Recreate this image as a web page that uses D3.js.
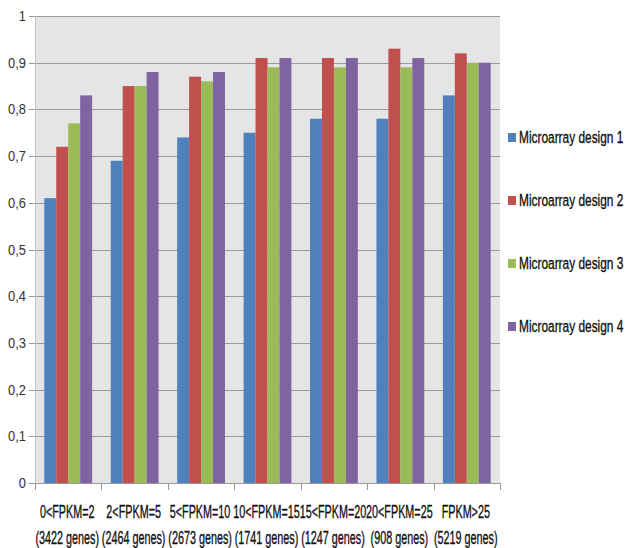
<!DOCTYPE html>
<html>
<head>
<meta charset="utf-8">
<script src="https://cdn.jsdelivr.net/npm/d3@7"></script>
<style>
  body { margin: 0; background: #ffffff; }
  svg { display: block; }
  text { font-family: "Liberation Sans", Arial, sans-serif; fill: #1a1a1a; }
  .heavy { fill: #111111; stroke: #111111; stroke-width: 0.35px; }
</style>
</head>
<body>
<svg id="chart" width="626" height="548"></svg>
<script>
// Correlation per FPKM bin, one array per microarray design
const categories = ["0<FPKM=2", "2<FPKM=5", "5<FPKM=10", "10<FPKM=15", "15<FPKM=20", "20<FPKM=25", "FPKM>25"];
const geneCounts = ["(3422 genes)", "(2464 genes)", "(2673 genes)", "(1741 genes)", "(1247 genes)", "(908 genes)", "(5219 genes)"];
const seriesNames = ["Microarray design 1", "Microarray design 2", "Microarray design 3", "Microarray design 4"];
const design1 = [0.61, 0.69, 0.74, 0.75, 0.78, 0.78, 0.83];
const design2 = [0.72, 0.85, 0.87, 0.91, 0.91, 0.93, 0.92];
const design3 = [0.77, 0.85, 0.86, 0.89, 0.89, 0.89, 0.90];
const design4 = [0.83, 0.88, 0.88, 0.91, 0.91, 0.91, 0.90];
const yTicks = [0, 0.1, 0.2, 0.3, 0.4, 0.5, 0.6, 0.7, 0.8, 0.9, 1];
const yTickLabels = ["0", "0,1", "0,2", "0,3", "0,4", "0,5", "0,6", "0,7", "0,8", "0,9", "1"];
const colors = ["#4f81bd", "#c0504d", "#9bbb59", "#8064a2"];

const seriesValues = [design1, design2, design3, design4];

const svg = d3.select("#chart");
const plot = { left: 35, right: 500, top: 16, bottom: 483 };

const x0 = d3.scaleBand()
  .domain(categories)
  .range([plot.left, plot.right])
  .paddingInner(0.28)
  .paddingOuter(0.14);

const x1 = d3.scaleBand()
  .domain(d3.range(seriesNames.length))
  .range([0, x0.bandwidth()])
  .padding(0);

const y = d3.scaleLinear().domain([0, 1]).range([plot.bottom, plot.top]);

// plot area background
svg.append("rect")
  .attr("x", plot.left).attr("y", plot.top)
  .attr("width", plot.right - plot.left).attr("height", plot.bottom - plot.top)
  .attr("fill", "#e5e5e5");

// horizontal gridlines with short ticks outside the left edge
svg.append("g").selectAll("line")
  .data(yTicks.filter(d => d > 0))
  .join("line")
  .attr("x1", plot.left - 6).attr("x2", plot.right)
  .attr("y1", d => Math.round(y(d)) + 0.5).attr("y2", d => Math.round(y(d)) + 0.5)
  .attr("stroke", "#9a9a9a").attr("stroke-width", 1);

// left axis line
svg.append("line")
  .attr("x1", plot.left + 0.5).attr("x2", plot.left + 0.5)
  .attr("y1", plot.top).attr("y2", plot.bottom)
  .attr("stroke", "#c4c4c4");

// y tick labels
svg.append("g").selectAll("text")
  .data(yTicks)
  .join("text")
  .attr("transform", d => `translate(26,${y(d) + 5}) scale(0.86,1)`)
  .attr("text-anchor", "end")
  .attr("font-size", 15)
  .style("fill", "#333")
  .text((d, i) => yTickLabels[i]);

// bars
const groups = svg.append("g").selectAll("g")
  .data(categories)
  .join("g")
  .attr("transform", d => `translate(${x0(d)},0)`);

groups.selectAll("rect")
  .data((d, ci) => seriesValues.map((vals, si) => ({ si, v: vals[ci] })))
  .join("rect")
  .attr("x", d => x1(d.si))
  .attr("width", x1.bandwidth())
  .attr("y", d => y(d.v))
  .attr("height", d => y(0) - y(d.v))
  .attr("fill", d => colors[d.si]);

// bottom axis with category boundary ticks
const step = x0.step();
const boundaries = d3.range(categories.length + 1).map(i => plot.left + i * step);
svg.append("line")
  .attr("x1", plot.left - 6).attr("x2", plot.right)
  .attr("y1", plot.bottom + 0.5).attr("y2", plot.bottom + 0.5)
  .attr("stroke", "#9a9a9a");
svg.append("g").selectAll("line")
  .data(boundaries)
  .join("line")
  .attr("x1", d => Math.round(d) + 0.5).attr("x2", d => Math.round(d) + 0.5)
  .attr("y1", plot.bottom).attr("y2", plot.bottom + 7)
  .attr("stroke", "#9a9a9a");

// category labels, two lines each, condensed to fit one band
const catLabels = svg.append("g");
catLabels.selectAll("text.cat")
  .data(categories)
  .join("text")
  .attr("class", "cat heavy")
  .attr("transform", d => `translate(${x0(d) + x0.bandwidth() / 2 - 1},518) scale(0.6,1)`)
  .attr("text-anchor", "middle")
  .attr("font-size", 18)
  .text(d => d);
catLabels.selectAll("text.genes")
  .data(geneCounts)
  .join("text")
  .attr("class", "genes heavy")
  .attr("transform", (d, i) => `translate(${x0(categories[i]) + x0.bandwidth() / 2 - 1},544) scale(0.6,1)`)
  .attr("text-anchor", "middle")
  .attr("font-size", 18)
  .text(d => d);

// legend
const legend = svg.append("g").selectAll("g")
  .data(seriesNames)
  .join("g")
  .attr("transform", (d, i) => `translate(508,${137 + i * 63})`);
legend.append("rect")
  .attr("x", 0).attr("y", -4).attr("width", 8).attr("height", 9)
  .attr("fill", (d, i) => colors[i]);
legend.append("text")
  .attr("class", "heavy")
  .attr("transform", "translate(11,6) scale(0.7,1)")
  .attr("font-size", 17)
  .text(d => d);
</script>
</body>
</html>
